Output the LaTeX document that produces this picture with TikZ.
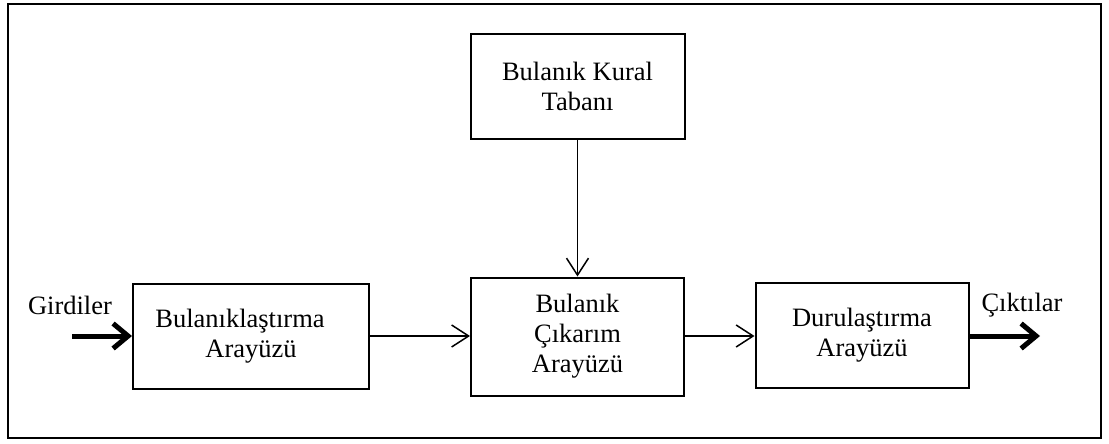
\documentclass[tikz,border=0pt]{standalone}
\usepackage{fontspec}
\setmainfont{Liberation Serif}
\usetikzlibrary{arrows.meta}
\begin{document}
\begin{tikzpicture}[x=1pt,y=-1pt,
  blk/.style={draw,line width=2pt,rectangle,inner sep=0pt,align=center,
    font=\fontsize{26.5}{30}\selectfont},
  lbl/.style={inner sep=0pt,font=\fontsize{26.5}{30}\selectfont},
  thin/.style={line width=1.5pt,-{Straight Barb[length=17pt,width=22pt]}},
  thick/.style={line width=5pt,-{Straight Barb[length=15pt,width=25pt]}}]
\useasboundingbox (0,0) rectangle (1109,444);
\draw[line width=1.5pt] (8,4) rectangle (1101,438);
\node[blk,minimum width=214pt,minimum height=105pt] (kural) at (577.5,86.5) {Bulanık Kural\\Tabanı};
\node[blk,minimum width=236pt,minimum height=105pt] (bul) at (251,336.5) {Bulanıklaştırma\hspace*{22pt}\\Arayüzü};
\node[blk,minimum width=213pt,minimum height=118pt] (cik) at (577.5,336.5) {Bulanık\\Çıkarım\\Arayüzü};
\node[blk,minimum width=213pt,minimum height=105pt] (dur) at (862,335.5) {Durulaştırma\\Arayüzü};
\node[lbl] (gir) at (70,305) {Girdiler};
\node[lbl] (cikt) at (1022,305) {Çıktılar};
\coordinate (in) at (72,336);
\coordinate (out) at (1040,336);
\draw[thick] (in) -- (bul.west |- in);
\draw[thin] (bul.east |- in) -- (cik.west |- in);
\draw[thin] (cik.east |- in) -- (dur.west |- in);
\draw[thick] (dur.east |- out) -- (out);
\draw[thin] (kural.south) -- (kural.south |- cik.north);
\end{tikzpicture}
\end{document}
